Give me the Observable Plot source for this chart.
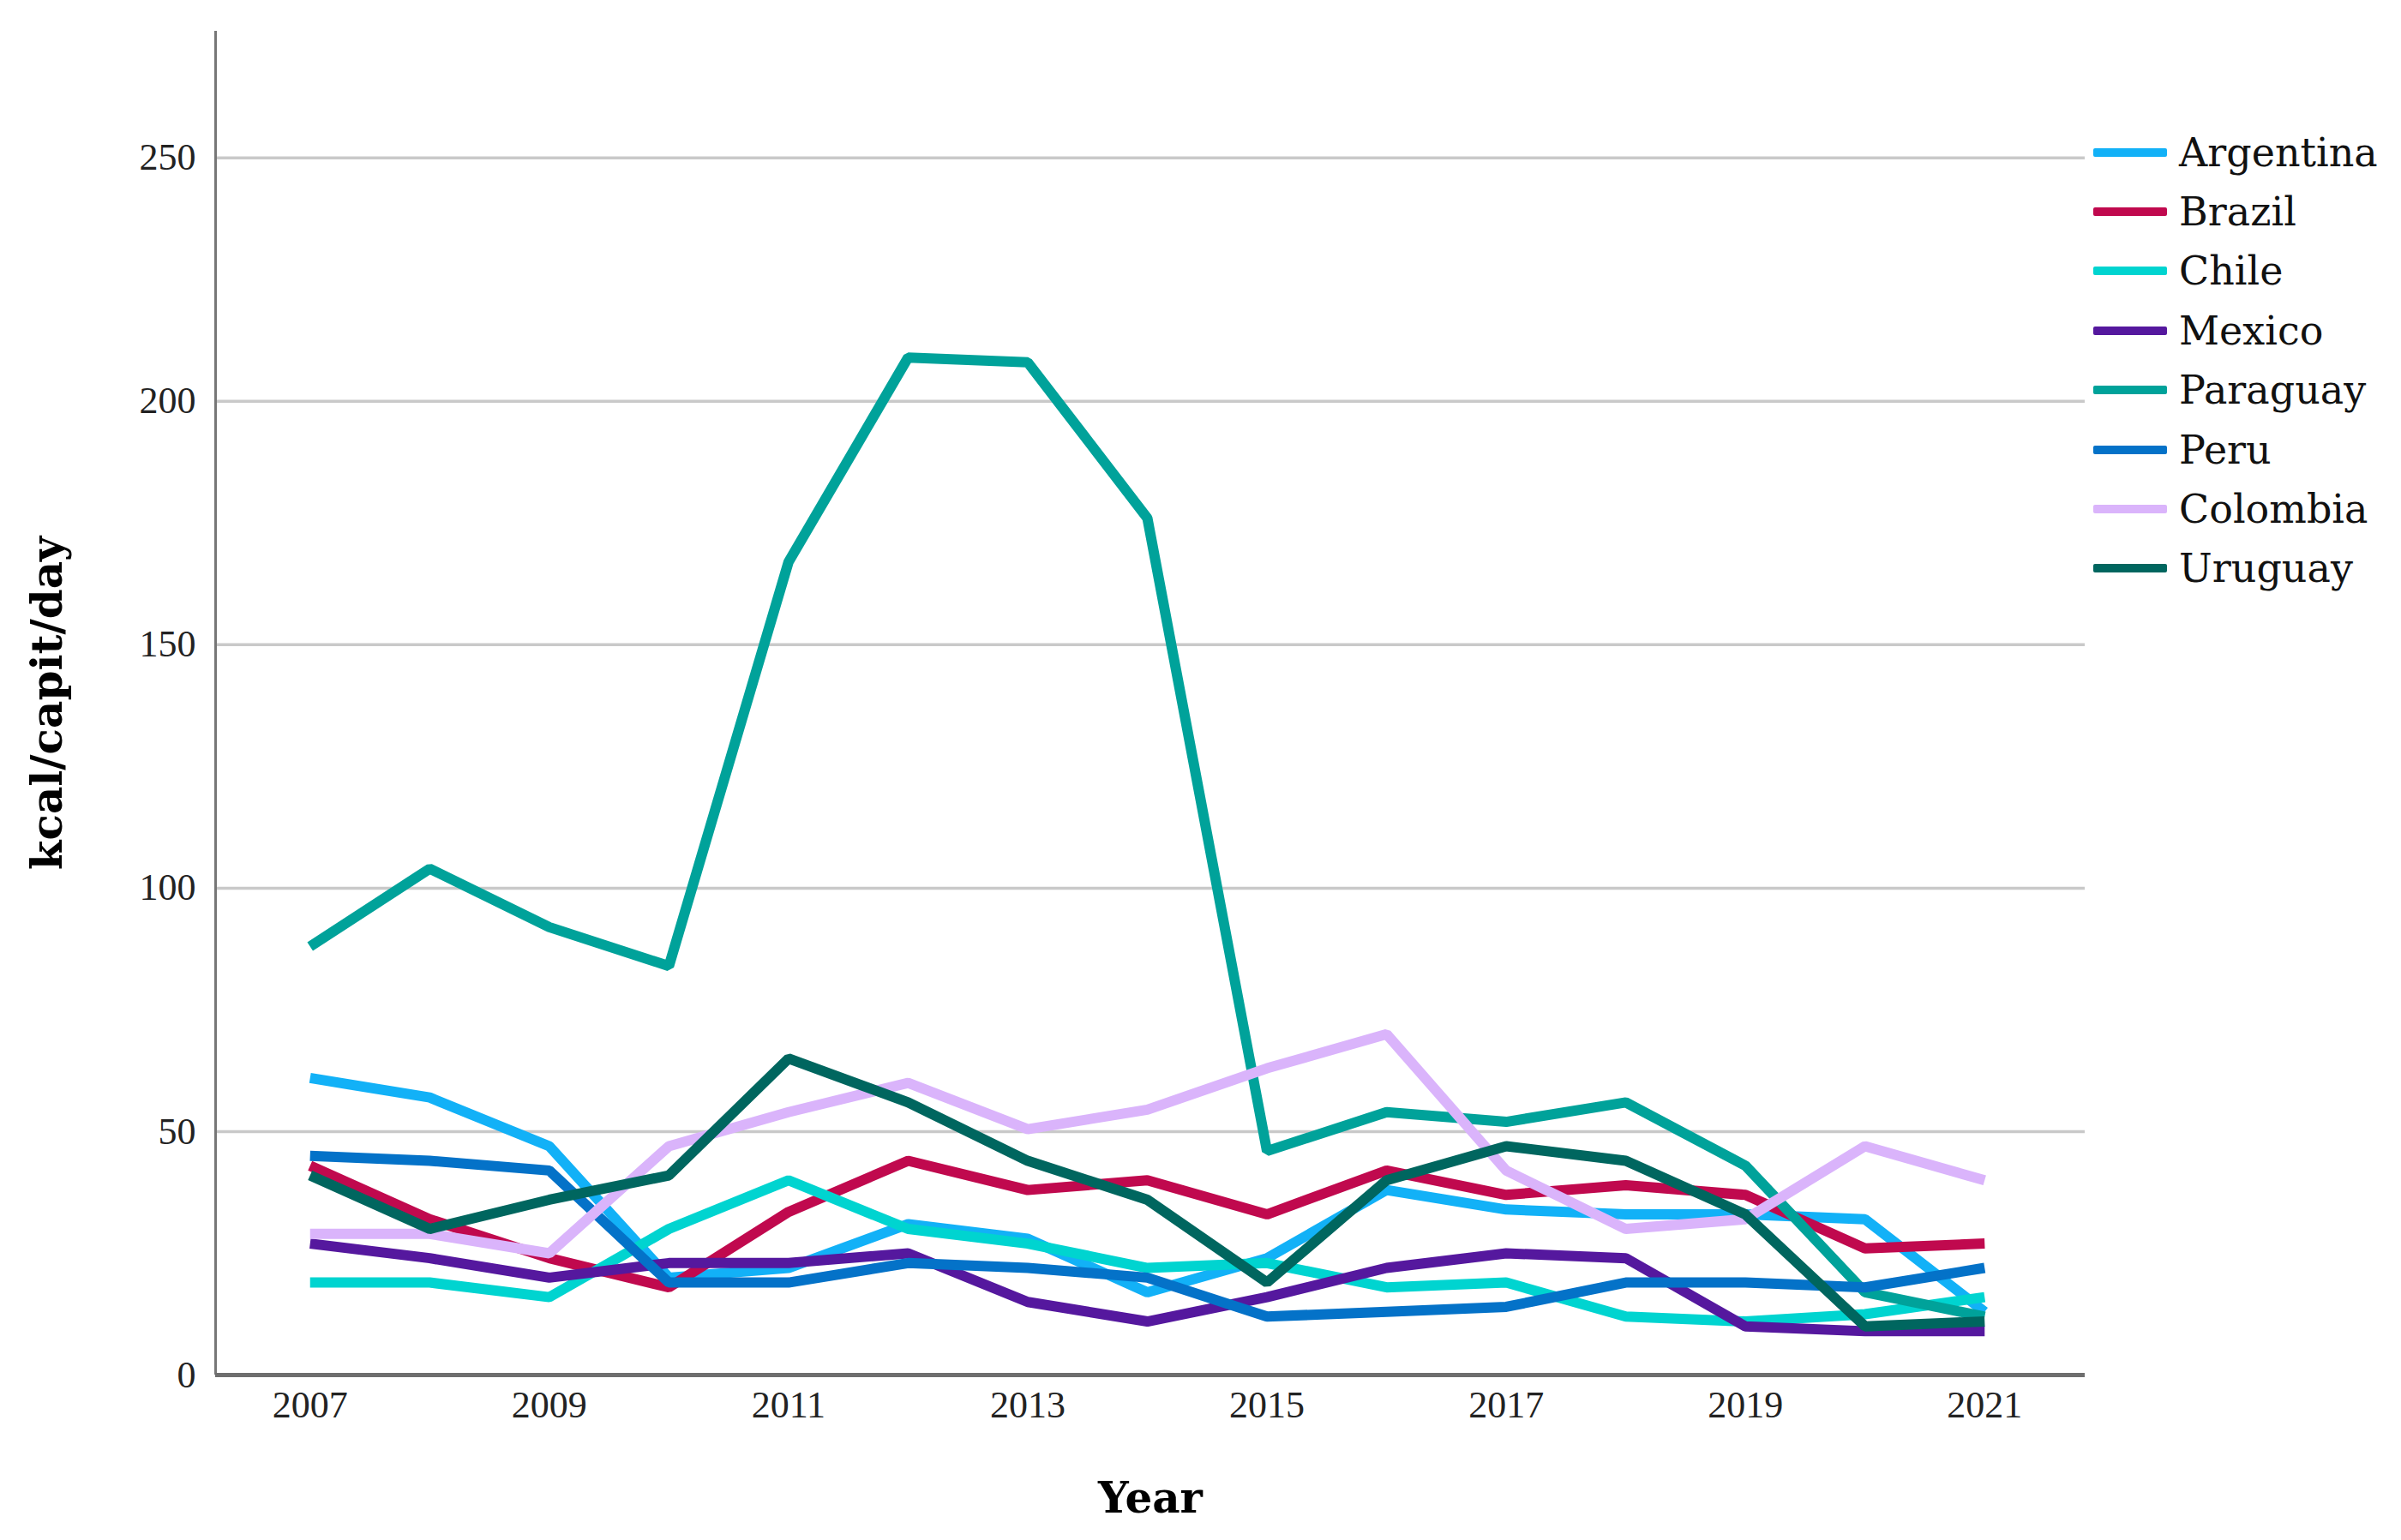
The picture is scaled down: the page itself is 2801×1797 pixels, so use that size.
<!DOCTYPE html>
<html>
<head>
<meta charset="utf-8">
<script src="https://cdn.jsdelivr.net/npm/d3@7"></script>
<script src="https://cdn.jsdelivr.net/npm/@observablehq/plot@0.6"></script>
<style>
  html, body { margin: 0; padding: 0; background: #fff; }
  #wrap { position: relative; width: 2801px; height: 1797px; background: #fff; overflow: hidden; }
  #chart { position: absolute; left: 0; top: 0; }
  #legend { position: absolute; left: 2442px; top: 143px; font-family: "DejaVu Serif", serif; font-size: 46px; color: #111; }
  .item { height: 69.4px; display: flex; align-items: center; white-space: nowrap; }
  .sw { width: 86px; height: 10px; border-radius: 2px; margin-right: 14px; }
  g[aria-label="y-axis label"] text, g[aria-label="x-axis label"] text {
    font-family: "DejaVu Serif", serif; font-weight: bold; font-size: 50px; fill: #000;
  }
</style>
</head>
<body>
<div id="wrap">
  <div id="chart"></div>
  <div id="legend"></div>
</div>
<script>
const years = [2007, 2008, 2009, 2010, 2011, 2012, 2013, 2014, 2015, 2016, 2017, 2018, 2019, 2020, 2021];
const countries = ["Argentina", "Brazil", "Chile", "Mexico", "Paraguay", "Peru", "Colombia", "Uruguay"];
const colors = ["#12b1f7", "#c0094e", "#00d4d0", "#55189e", "#00a29a", "#0472c8", "#dab4fb", "#00665f"];

const argentina = [61, 57, 47, 20, 22, 31, 28, 17, 24, 38, 34, 33, 33, 32, 13];
const brazil    = [43, 32, 24, 18, 33.5, 44, 38, 40, 33, 42, 37, 39, 37, 26, 27];
const chile     = [19, 19, 16, 30, 40, 30, 27, 22, 23, 18, 19, 12, 11, 12.5, 16];
const mexico    = [27, 24, 20, 23, 23, 25, 15, 11, 16, 22, 25, 24, 10, 9, 9];
const paraguay  = [88, 104, 92, 84, 167, 209, 208, 176, 46, 54, 52, 56, 43, 17, 12];
const peru      = [45, 44, 42, 19, 19, 23, 22, 20, 12, 13, 14, 19, 19, 18, 22];
const colombia  = [29, 29, 25, 47, 54, 60, 50.5, 54.5, 63, 70, 42, 30, 32, 47, 40];
const uruguay   = [41, 30, 36, 41, 65, 56, 44, 36, 19, 40, 47, 44, 33, 10, 11];

const yTicks = [0, 50, 100, 150, 200, 250];
const xTicks = [2007, 2009, 2011, 2013, 2015, 2017, 2019, 2021];

const series = [argentina, brazil, chile, mexico, paraguay, peru, colombia, uruguay];
const data = [];
countries.forEach((c, i) => years.forEach((yr, j) => data.push({country: c, year: yr, value: series[i][j]})));

const chart = Plot.plot({
  width: 2440,
  height: 1797,
  marginLeft: 251,
  marginRight: 8,
  marginTop: 36,
  marginBottom: 193,
  style: {fontFamily: "Liberation Serif, serif", fontSize: "44px", color: "#222", background: "#fff"},
  x: {domain: [2006.21, 2021.84]},
  y: {domain: [0, 276]},
  color: {domain: countries, range: colors},
  marks: [
    Plot.gridY(yTicks.filter(d => d > 0), {stroke: "#c9c9c9", strokeOpacity: 1, strokeWidth: 3.5}),
    Plot.axisY(yTicks, {tickSize: 0, tickPadding: 23, fontSize: 44, label: "kcal/capit/day", labelAnchor: "center", labelArrow: "none", labelOffset: 215}),
    Plot.axisX(xTicks, {tickSize: 0, tickPadding: 18, fontSize: 44, tickFormat: d => String(d), label: "Year", labelAnchor: "center", labelArrow: "none", labelOffset: 160}),
    Plot.ruleX([2006.21], {stroke: "#777", strokeWidth: 3}),
    Plot.ruleY([0], {stroke: "#6e6e6e", strokeWidth: 5}),
    Plot.line(data, {x: "year", y: "value", z: "country", stroke: "country", strokeWidth: 12, strokeLinejoin: "miter", strokeLinecap: "butt"})
  ]
});
document.getElementById("chart").appendChild(chart);

const legend = document.getElementById("legend");
countries.forEach((c, i) => {
  const item = document.createElement("div");
  item.className = "item";
  const sw = document.createElement("div");
  sw.className = "sw";
  sw.style.background = colors[i];
  const t = document.createElement("span");
  t.textContent = c;
  item.appendChild(sw);
  item.appendChild(t);
  legend.appendChild(item);
});
</script>
</body>
</html>
